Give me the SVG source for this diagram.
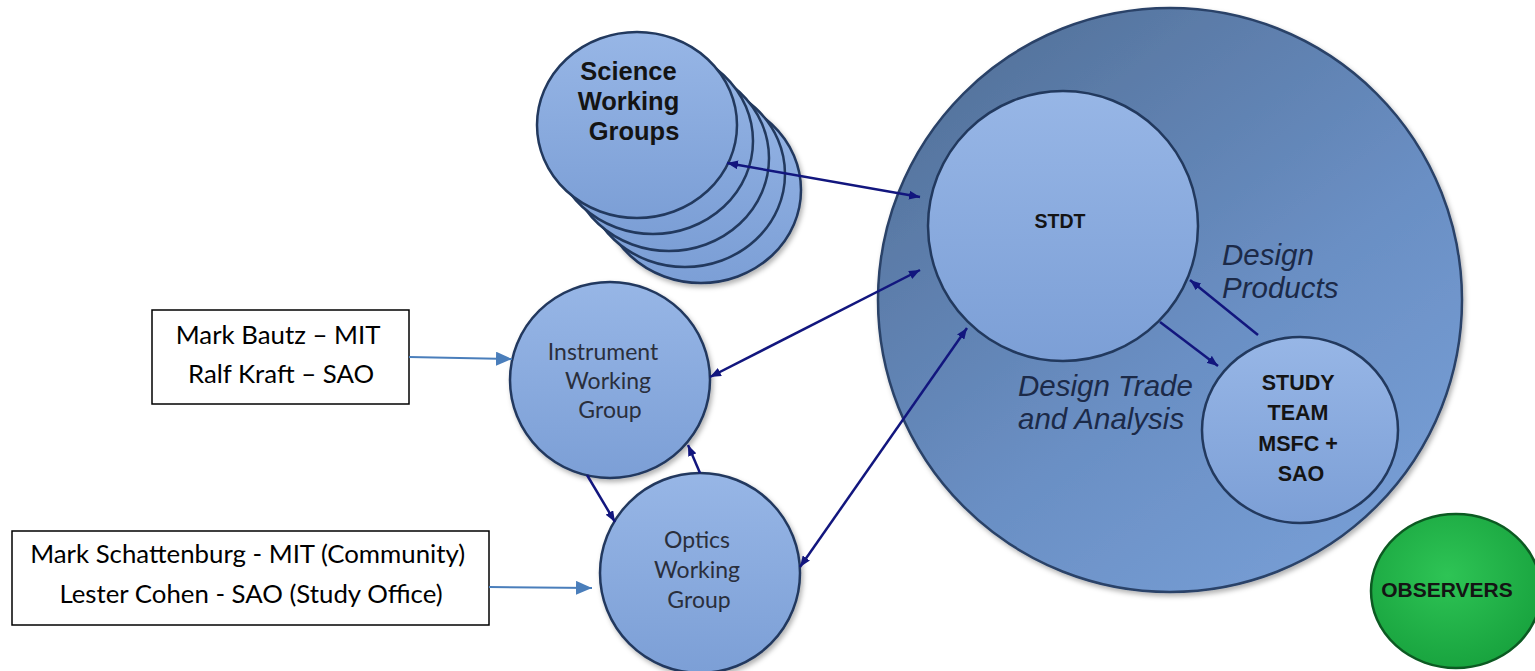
<svg xmlns="http://www.w3.org/2000/svg" width="1535" height="671" viewBox="0 0 1535 671">
  <defs>
    <style>
      .wg { stroke: #22395e; stroke-width: 2.5; fill: url(#wgFill); }
      .lbl-bold { font-family: "Liberation Sans", Arial, sans-serif; font-weight: bold; fill: #141414; text-anchor: middle; }
      .lbl-wg { font-family: Lato, "Liberation Sans", sans-serif; fill: #2a2f3c; text-anchor: middle; font-size: 23px; }
      .lbl-note { font-family: Lato, "Liberation Sans", sans-serif; fill: #000; text-anchor: middle; font-size: 25.8px; }
      .lbl-flow { font-family: "Liberation Sans", Arial, sans-serif; font-style: italic; fill: #1c2a48; font-size: 29.5px; }
      .link { stroke: #12167e; stroke-width: 2.5; fill: none; }
      .feed { stroke: #4a7ebb; stroke-width: 2; fill: none; }
      .box { fill: #fff; stroke: #000; stroke-width: 1.5; }
    </style>
    <linearGradient id="wgFill" x1="0" y1="0" x2="0" y2="1">
      <stop offset="0" stop-color="#97b6e6"/>
      <stop offset="1" stop-color="#7c9fd6"/>
    </linearGradient>
    <linearGradient id="outerFill" x1="0.2" y1="0.1" x2="0.8" y2="0.9">
      <stop offset="0" stop-color="#56759f"/>
      <stop offset="0.6" stop-color="#6a8fc4"/>
      <stop offset="1" stop-color="#759cd3"/>
    </linearGradient>
    <radialGradient id="greenFill" cx="0.45" cy="0.4" r="0.65">
      <stop offset="0" stop-color="#2ec455"/>
      <stop offset="1" stop-color="#17a13d"/>
    </radialGradient>
    <filter id="soft" x="-10%" y="-10%" width="125%" height="125%">
      <feDropShadow dx="2" dy="3" stdDeviation="2.5" flood-color="#000" flood-opacity="0.3"/>
    </filter>
    <marker id="navyHead" viewBox="0 0 10 8" refX="10" refY="4" markerWidth="11" markerHeight="9" markerUnits="userSpaceOnUse" orient="auto-start-reverse">
      <path d="M0,0 L10,4 L0,8 Z" fill="#12167e"/>
    </marker>
    <marker id="feedHead" viewBox="0 0 16 14" refX="16" refY="7" markerWidth="16" markerHeight="14" markerUnits="userSpaceOnUse" orient="auto">
      <path d="M0,0 L16,7 L0,14 Z" fill="#4a7ebb"/>
    </marker>
  </defs>

  <rect width="1535" height="671" fill="#fff"/>

  <!-- outer team circle with STDT and study team inside -->
  <g id="team-circle">
    <circle cx="1170" cy="300" r="292" fill="url(#outerFill)" stroke="#2a4268" stroke-width="2.5" filter="url(#soft)"/>
  </g>

  <g id="stdt">
    <circle class="wg" cx="1063" cy="226" r="135"/>
    <text class="lbl-bold" x="1060" y="228" font-size="19.5">STDT</text>
  </g>

  <g id="study-team">
    <ellipse class="wg" cx="1300" cy="430" rx="98" ry="93"/>
    <text class="lbl-bold" font-size="21.5">
      <tspan x="1301" y="390">STUDY</tspan>
      <tspan x="1301" y="420">TEAM</tspan>
      <tspan x="1301" y="451">MSFC +</tspan>
      <tspan x="1301" y="481">SAO</tspan>
    </text>
  </g>

  <g id="flow-labels">
    <text class="lbl-flow" x="1222" y="265">Design</text>
    <text class="lbl-flow" x="1222" y="298">Products</text>
    <text class="lbl-flow" x="1018" y="396">Design Trade</text>
    <text class="lbl-flow" x="1018" y="429">and Analysis</text>
  </g>

  <!-- stacked science working groups, drawn back to front -->
  <g id="science-working-groups">
    <ellipse class="wg" cx="701" cy="190" rx="100" ry="93" filter="url(#soft)"/>
    <ellipse class="wg" cx="685" cy="174" rx="100" ry="93"/>
    <ellipse class="wg" cx="669" cy="158" rx="100" ry="93"/>
    <ellipse class="wg" cx="653" cy="141" rx="100" ry="93"/>
    <ellipse class="wg" cx="637" cy="125" rx="100" ry="93"/>
    <text class="lbl-bold" font-size="25.5" fill="#1b1b1b">
      <tspan x="632" y="80">Science</tspan>
      <tspan x="632" y="110">Working</tspan>
      <tspan x="634" y="140">Groups</tspan>
    </text>
  </g>

  <g id="instrument-working-group">
    <ellipse class="wg" cx="610" cy="380" rx="100" ry="98" filter="url(#soft)"/>
    <text class="lbl-wg">
      <tspan x="606" y="360">Instrument</tspan>
      <tspan x="611" y="389">Working</tspan>
      <tspan x="610" y="418">Group</tspan>
    </text>
  </g>

  <g id="optics-working-group">
    <circle class="wg" cx="700" cy="573" r="100" filter="url(#soft)"/>
    <text class="lbl-wg">
      <tspan x="700" y="548">Optics</tspan>
      <tspan x="700" y="578">Working</tspan>
      <tspan x="699" y="608">Group</tspan>
    </text>
  </g>

  <g id="observers">
    <ellipse cx="1456" cy="591" rx="85" ry="77" fill="url(#greenFill)" stroke="#0c5a22" stroke-width="2.5"/>
    <text class="lbl-bold" x="1447" y="597" font-size="21">OBSERVERS</text>
  </g>

  <g id="mit-sao-note">
    <rect class="box" x="152" y="310" width="257" height="94"/>
    <text class="lbl-note">
      <tspan x="281" y="344">Mark Bautz – MIT</tspan>
      <tspan x="281" y="383">Ralf Kraft – SAO</tspan>
    </text>
  </g>

  <g id="optics-leads-note">
    <rect class="box" x="12" y="531" width="477" height="94"/>
    <text class="lbl-note">
      <tspan x="251" y="563">Mark Schattenburg - MIT (Community)</tspan>
      <tspan x="251" y="603">Lester Cohen - SAO (Study Office)</tspan>
    </text>
  </g>

  <g id="connectors">
    <line class="link" x1="727" y1="163" x2="920" y2="197" marker-start="url(#navyHead)" marker-end="url(#navyHead)"/>
    <line class="link" x1="710" y1="377" x2="920" y2="270" marker-start="url(#navyHead)" marker-end="url(#navyHead)"/>
    <line class="link" x1="800" y1="567" x2="967" y2="328" marker-start="url(#navyHead)" marker-end="url(#navyHead)"/>
    <line class="link" x1="587" y1="475" x2="615" y2="522" marker-end="url(#navyHead)"/>
    <line class="link" x1="700" y1="473" x2="688" y2="445" marker-end="url(#navyHead)"/>
    <line class="link" x1="1160" y1="322" x2="1218" y2="366" marker-end="url(#navyHead)"/>
    <line class="link" x1="1258" y1="335" x2="1190" y2="280" marker-end="url(#navyHead)"/>
    <line class="feed" x1="409" y1="357" x2="512" y2="359" marker-end="url(#feedHead)"/>
    <line class="feed" x1="489" y1="587" x2="592" y2="588" marker-end="url(#feedHead)"/>
  </g>
</svg>
